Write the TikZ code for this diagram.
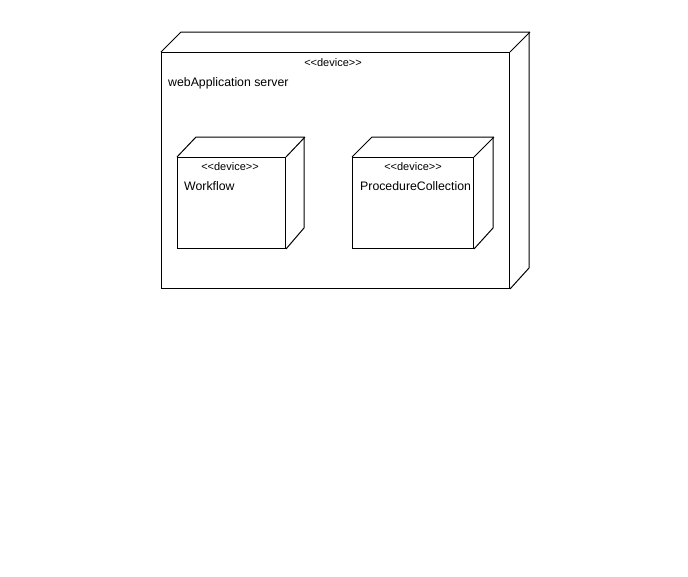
\documentclass[tikz,border=0pt]{standalone}
\usepackage{fontspec}
\setmainfont{Liberation Sans}
\newcommand{\stlabel}{<\kern0pt<device>\kern0pt>}
\begin{document}
\begin{tikzpicture}[x=1pt,y=-1pt,
  front/.style={draw=black,line width=1pt,fill=white,inner sep=0pt,anchor=north west},
  edge3d/.style={draw=black,line width=1pt,line join=miter},
  stereo/.style={font=\fontsize{11}{13}\selectfont,inner sep=0pt,anchor=base},
  nametext/.style={font=\fontsize{12.3}{14}\selectfont,inner sep=0pt,anchor=base west}]
\useasboundingbox[fill=white] (0,0) rectangle (688,576);
% outer node
\node[front,minimum width=348pt,minimum height=236pt] (srv) at (161,52) {};
\draw[edge3d] (srv.north west) -- ++(20,-20) -- ++(348,0) -- ++(0,236) -- (srv.south east);
\draw[edge3d] (srv.north east) -- ++(20,-20);
\node[stereo] (srvst) at (333,66) {\stlabel};
\node[nametext] (srvname) at (168,86) {webApplication server};
% workflow
\node[front,minimum width=108pt,minimum height=91pt] (wf) at (177,157) {};
\draw[edge3d] (wf.north west) -- ++(19,-20) -- ++(108,0) -- ++(0,91) -- (wf.south east);
\draw[edge3d] (wf.north east) -- ++(19,-20);
\node[stereo] (wfst) at (230,170) {\stlabel};
\node[nametext] (wfname) at (184,190.5) {Workflow};
% procedure collection
\node[front,minimum width=121pt,minimum height=91pt] (pc) at (352,157) {};
\draw[edge3d] (pc.north west) -- ++(20,-20) -- ++(121,0) -- ++(0,91) -- (pc.south east);
\draw[edge3d] (pc.north east) -- ++(20,-20);
\node[stereo] (pcst) at (413,170) {\stlabel};
\node[nametext] (pcname) at (360,190.5) {ProcedureCollection};
\end{tikzpicture}
\end{document}
